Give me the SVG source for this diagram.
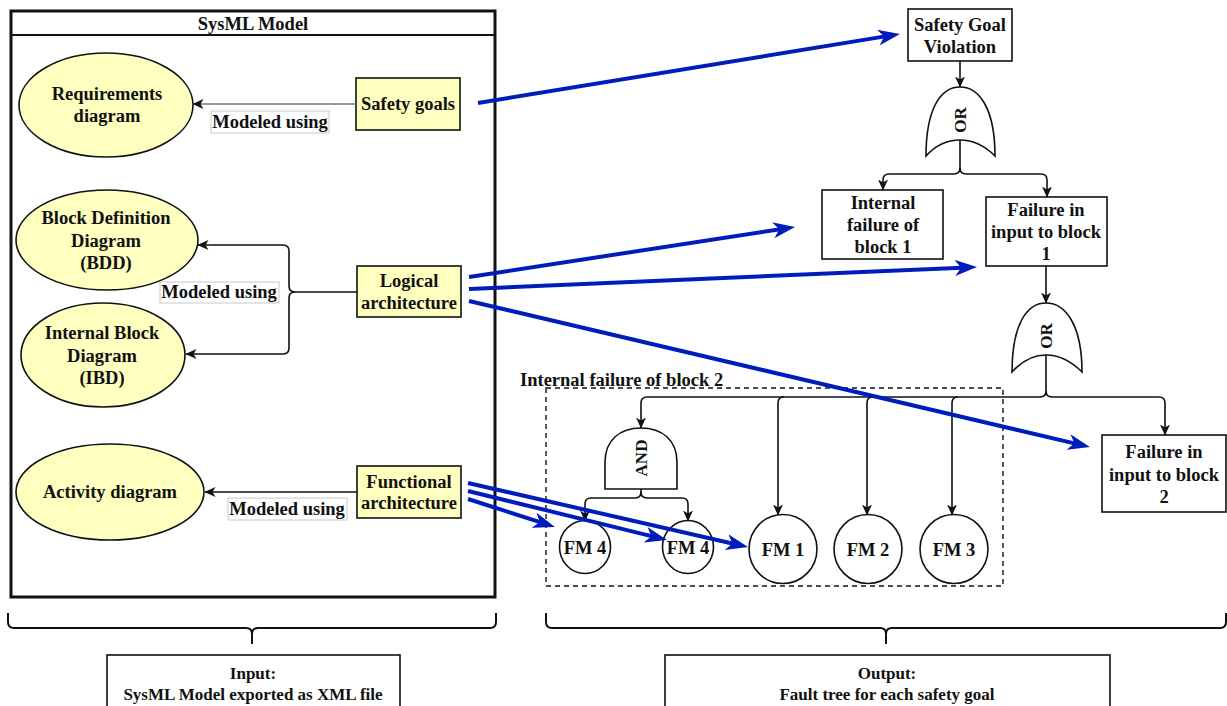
<svg xmlns="http://www.w3.org/2000/svg" width="1227" height="706" viewBox="0 0 1227 706">
  <style>
    text { font-family: "Liberation Serif", "Times New Roman", serif; font-weight: bold; font-size: 18.5px; fill: #111; }
    .c { text-anchor: middle; }
    .yel { fill: #FFFFC0; stroke: #111; stroke-width: 1.6; }
    .box { fill: #fff; stroke: #111; stroke-width: 1.6; }
    .gate { fill: #fff; stroke: #111; stroke-width: 1.6; }
    .edge { fill: none; stroke: #111; stroke-width: 1.6; marker-end: url(#ah); }
    .link { fill: none; stroke: #111; stroke-width: 1.6; }
    .blue { fill: none; stroke: #001DBC; stroke-width: 4; marker-end: url(#bh); }
    .lbl { fill: #fff; stroke: #c8c8c8; stroke-width: 1; }
    .brace { fill: none; stroke: #111; stroke-width: 2; }
    .small { font-size: 17px; }
    .gt { font-size: 17px; }
  </style>
  <defs>
    <marker id="ah" markerUnits="userSpaceOnUse" markerWidth="11" markerHeight="10" viewBox="0 0 11 10" refX="10.5" refY="5" orient="auto">
      <path d="M0,0 L11,5 L0,10 L3,5 Z" fill="#111"/>
    </marker>
    <marker id="bh" markerUnits="userSpaceOnUse" markerWidth="22" markerHeight="16" viewBox="0 0 22 16" refX="7" refY="8" orient="auto">
      <path d="M0,0 L22,8 L0,16 L6,8 Z" fill="#001DBC"/>
    </marker>
  </defs>

  <!-- SysML model container -->
  <g id="sysml-model">
    <rect x="11" y="11" width="484" height="586" fill="#fff" stroke="#111" stroke-width="3"/>
    <line x1="11" y1="35" x2="495" y2="35" stroke="#111" stroke-width="2"/>
    <text class="c" x="253" y="30">SysML Model</text>
  </g>

  <g id="requirements-diagram">
    <ellipse class="yel" cx="106" cy="105" rx="87" ry="52"/>
    <text class="c" x="107" y="100">Requirements</text>
    <text class="c" x="107" y="122">diagram</text>
  </g>
  <g id="safety-goals">
    <rect class="yel" x="356" y="78" width="104" height="52"/>
    <text class="c" x="408" y="110">Safety goals</text>
  </g>

  <g id="bdd">
    <ellipse class="yel" cx="107" cy="240" rx="91" ry="50"/>
    <text class="c" x="106" y="224">Block Definition</text>
    <text class="c" x="106" y="247">Diagram</text>
    <text class="c" x="106" y="269">(BDD)</text>
  </g>
  <g id="ibd">
    <ellipse class="yel" cx="103" cy="355" rx="82" ry="52"/>
    <text class="c" x="102" y="339">Internal Block</text>
    <text class="c" x="102" y="362">Diagram</text>
    <text class="c" x="102" y="384">(IBD)</text>
  </g>
  <g id="logical-architecture">
    <rect class="yel" x="357" y="266" width="104" height="51"/>
    <text class="c" x="409" y="287">Logical</text>
    <text class="c" x="409" y="309">architecture</text>
  </g>

  <g id="activity-diagram">
    <ellipse class="yel" cx="110" cy="492" rx="94" ry="48"/>
    <text class="c" x="110" y="498">Activity diagram</text>
  </g>
  <g id="functional-architecture">
    <rect class="yel" x="357" y="466" width="104" height="52"/>
    <text class="c" x="409" y="488">Functional</text>
    <text class="c" x="409" y="509">architecture</text>
  </g>

  <!-- fault tree -->
  <g id="safety-goal-violation">
    <rect class="box" x="908" y="9" width="104" height="52"/>
    <text class="c" x="960" y="31">Safety Goal</text>
    <text class="c" x="960" y="53">Violation</text>
  </g>
  <g id="or-gate-1">
    <path class="gate" d="M926,156 C926,110 940,87 960,87 C980,87 995,110 995,156 C985,146 974,140 960,140 C946,140 935,146 926,156 Z"/>
    <text class="c gt" x="0" y="0" transform="translate(966,120) rotate(-90)">OR</text>
  </g>
  <g id="internal-failure-block-1">
    <rect class="box" x="822" y="190" width="121" height="69"/>
    <text class="c" x="883" y="209">Internal</text>
    <text class="c" x="883" y="231">failure of</text>
    <text class="c" x="883" y="253">block 1</text>
  </g>
  <g id="failure-input-block-1">
    <rect class="box" x="986" y="197" width="121" height="69"/>
    <text class="c" x="1046" y="216">Failure in</text>
    <text class="c" x="1046" y="238">input to block</text>
    <text class="c" x="1046" y="260">1</text>
  </g>
  <g id="or-gate-2">
    <path class="gate" d="M1012,372 C1012,326 1026,303 1046,303 C1066,303 1082,326 1082,372 C1072,362 1060,355 1046,355 C1032,355 1021,362 1012,372 Z"/>
    <text class="c gt" x="0" y="0" transform="translate(1052,336) rotate(-90)">OR</text>
  </g>
  <g id="failure-input-block-2">
    <rect class="box" x="1102" y="435" width="124" height="77"/>
    <text class="c" x="1164" y="458">Failure in</text>
    <text class="c" x="1164" y="481">input to block</text>
    <text class="c" x="1164" y="503">2</text>
  </g>

  <g id="internal-failure-block-2">
    <rect x="546" y="388" width="457" height="198" fill="none" stroke="#111" stroke-width="1.4" stroke-dasharray="5,4"/>
    <text x="520" y="386">Internal failure of block 2</text>
  </g>
  <g id="and-gate">
    <path class="gate" d="M605,489 L605,462 C605,440 620,428 641,428 C662,428 677,440 677,462 L677,489 Z"/>
    <text class="c gt" x="0" y="0" transform="translate(647,458) rotate(-90)">AND</text>
  </g>
  <g id="fm4-a">
    <ellipse class="box" cx="585" cy="547" rx="25.5" ry="26.5"/>
    <text class="c" x="585" y="554">FM 4</text>
  </g>
  <g id="fm4-b">
    <ellipse class="box" cx="688" cy="547" rx="25.5" ry="26.5"/>
    <text class="c" x="688" y="554">FM 4</text>
  </g>
  <g id="fm1">
    <ellipse class="box" cx="783" cy="549" rx="34" ry="34.5"/>
    <text class="c" x="783" y="556">FM 1</text>
  </g>
  <g id="fm2">
    <ellipse class="box" cx="868" cy="549" rx="34" ry="34.5"/>
    <text class="c" x="868" y="556">FM 2</text>
  </g>
  <g id="fm3">
    <ellipse class="box" cx="954" cy="549" rx="34" ry="34.5"/>
    <text class="c" x="954" y="556">FM 3</text>
  </g>

  <!-- input / output summary -->
  <g id="input">
    <path class="brace" d="M8,613 L8,622 Q8,628 14,628 L246,628 Q252,628 252,634 Q252,628 258,628 L490,628 Q496,628 496,622 L496,613 M252,634 L252,644"/>
    <rect class="box" x="107" y="655" width="293" height="60"/>
    <text class="c small" x="253" y="679">Input:</text>
    <text class="c small" x="253" y="700">SysML Model exported as XML file</text>
  </g>
  <g id="output">
    <path class="brace" d="M546,613 L546,622 Q546,628 552,628 L880,628 Q886,628 886,634 Q886,628 892,628 L1220,628 Q1226,628 1226,622 L1226,613 M886,634 L886,644"/>
    <rect class="box" x="665" y="655" width="445" height="60"/>
    <text class="c small" x="887" y="679">Output:</text>
    <text class="c small" x="887" y="700">Fault tree for each safety goal</text>
  </g>

  <g id="connectors">
    <!-- modeling relations inside the SysML model -->
    <line x1="356" y1="104" x2="193" y2="104" stroke="#777" stroke-width="1.3" marker-end="url(#ah)"/>
    <rect class="lbl" x="211" y="111" width="118" height="22"/>
    <text class="c" x="270" y="128">Modeled using</text>

    <path class="edge" d="M357,292 L295,292 Q289,292 289,286 L289,251 Q289,245 283,245 L198,245"/>
    <path class="edge" d="M295,292 Q289,292 289,298 L289,348 Q289,354 283,354 L186,354"/>
    <rect class="lbl" x="160" y="282" width="119" height="21"/>
    <text class="c" x="219" y="298">Modeled using</text>

    <line class="edge" x1="357" y1="492" x2="205" y2="492"/>
    <rect class="lbl" x="228" y="498" width="119" height="22"/>
    <text class="c" x="287" y="515">Modeled using</text>

    <!-- fault tree links -->
    <line class="edge" x1="960" y1="61" x2="960" y2="87"/>
    <path class="edge" d="M960,140 L960,168 Q960,174 954,174 L889,174 Q883,174 883,180 L883,190"/>
    <path class="edge" d="M960,168 Q960,174 966,174 L1041,174 Q1047,174 1047,180 L1047,197"/>
    <line class="edge" x1="1046" y1="266" x2="1046" y2="303"/>

    <path class="edge" d="M1046,355 L1046,391 Q1046,397 1040,397 L647,397 Q641,397 641,403 L641,428"/>
    <path class="edge" d="M1046,391 Q1046,397 1052,397 L1159,397 Q1165,397 1165,403 L1165,435"/>
    <path class="edge" d="M784,397 Q778,397 778,403 L778,515"/>
    <path class="edge" d="M873,397 Q867,397 867,403 L867,515"/>
    <path class="edge" d="M958,397 Q952,397 952,403 L952,515"/>

    <path class="edge" d="M641,489 L641,492 Q641,498 635,498 L591,498 Q585,498 585,504 L585,521"/>
    <path class="edge" d="M641,492 Q641,498 647,498 L682,498 Q688,498 688,504 L688,521"/>

    <!-- traceability from model elements to fault tree events -->
    <line class="blue" x1="478" y1="103" x2="885.2" y2="36.4"/>
    <line class="blue" x1="469" y1="277" x2="780.2" y2="229.2"/>
    <line class="blue" x1="469" y1="289" x2="962" y2="267.7"/>
    <line class="blue" x1="469" y1="301" x2="1075.4" y2="443.6"/>
    <line class="blue" x1="468" y1="483" x2="733.4" y2="543.7"/>
    <line class="blue" x1="468" y1="491" x2="652.4" y2="536.4"/>
    <line class="blue" x1="468" y1="499" x2="540.7" y2="522.4"/>
  </g>
</svg>
